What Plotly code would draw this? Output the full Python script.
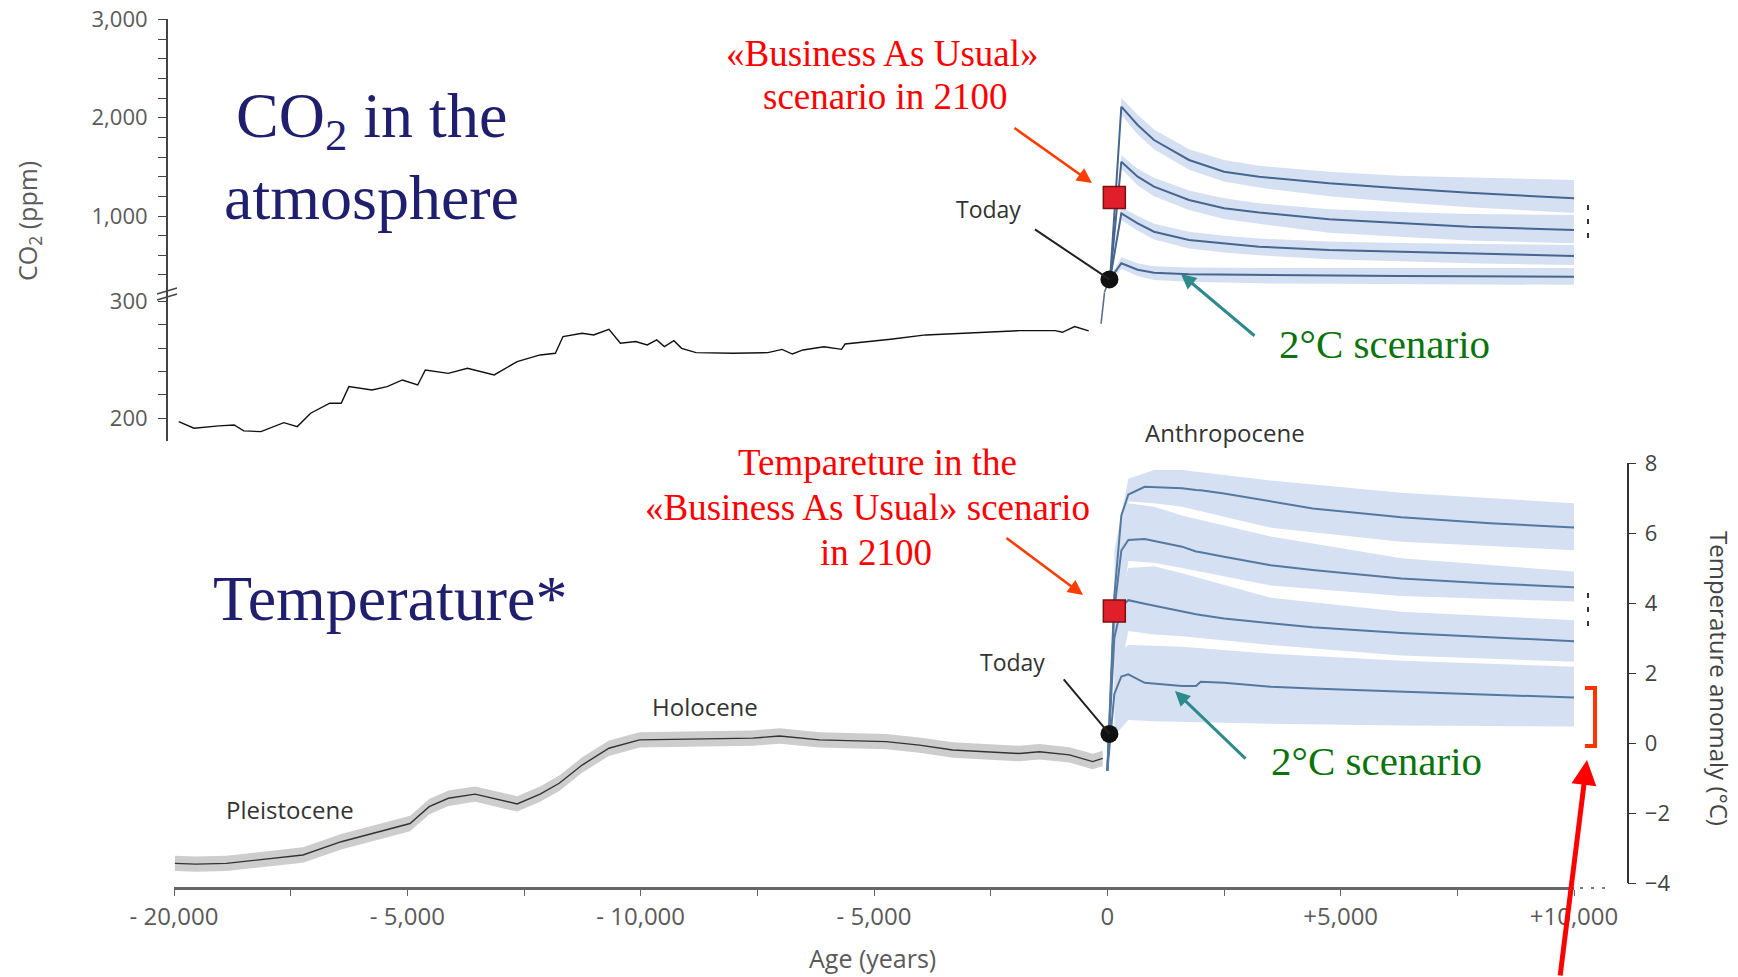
import plotly.graph_objects as go

W, H = 1738, 977
def px(x): return x / W
def py(y): return 1 - y / H

# ---------------- data ----------------
co2_paleo_years = [-19899, -19572, -19039, -18711, -18506, -18138, -17646, -17359, -17072, -16662,
                   -16417, -16253, -15761, -15433, -15105, -14778, -14614, -14122, -13712, -13139,
                   -12647, -12155, -11828, -11664, -11254, -11008, -10680, -10434, -10107, -9860,
                   -9656, -9492, -9287, -9123, -8812, -8024, -7273, -6972, -6747, -6522, -6071,
                   -5696, -5620, -5095, -4644, -3893, -3367, -2616, -1865, -1114, -963, -701, -400]
co2_paleo_ppm = [196.8, 191.2, 193.2, 194.0, 188.9, 188.3, 196.0, 192.6, 204.1, 212.7,
                 212.7, 227.0, 224.1, 227.0, 232.7, 228.4, 241.3, 238.4, 242.7, 237.0,
                 248.5, 254.2, 255.6, 270.0, 272.8, 271.4, 276.3, 264.3, 265.7, 262.8,
                 267.1, 261.4, 266.5, 259.9, 256.2, 255.6, 256.2, 259.0, 255.0, 258.5, 261.3,
                 259.0, 263.6, 265.7, 267.7, 271.4, 272.3, 273.7, 275.1, 275.1, 273.7, 278.6, 274.9]

co2_modern_low_years = [-135, -60]
co2_modern_low_ppm = [281, 308]
co2_modern_high_years = [-60, 43]
co2_modern_high_ppm = [227, 355]

co2_scen_years = [60, 300, 650, 1000, 1750, 2500, 3250, 4750, 6250, 7750, 10000]
co2_scen = [
    [360, 2112, 1926, 1773, 1570, 1451, 1400, 1332, 1282, 1237, 1180],
    [360, 1552, 1400, 1298, 1163, 1078, 1036, 968, 930, 890, 858],
    [360, 1027, 926, 840, 756, 720, 688, 654, 637, 620, 593],
    [360, 520, 454, 423, 407, 403, 401, 397, 390, 387, 383],
]
co2_scen_upper = [
    [380, 2200, 2030, 1880, 1680, 1570, 1510, 1450, 1410, 1390, 1366],
    [380, 1620, 1480, 1390, 1260, 1180, 1130, 1070, 1040, 1020, 1010],
    [380, 1090, 1000, 920, 840, 800, 770, 740, 725, 715, 705],
    [380, 580, 520, 490, 475, 472, 471, 470, 470, 470, 470],
]
co2_scen_lower = [
    [340, 2030, 1830, 1680, 1470, 1350, 1290, 1200, 1140, 1090, 1030],
    [340, 1480, 1310, 1200, 1060, 970, 920, 830, 790, 750, 722],
    [340, 960, 850, 760, 670, 630, 600, 560, 540, 520, 502],
    [340, 460, 390, 350, 330, 320, 315, 310, 305, 302, 300],
]

temp_paleo_years = [-19981, -19531, -18875, -18056, -17236, -16417, -15597, -14942, -14532, -14122,
                    -13548, -13139, -12647, -12155, -11745, -11254, -10680, -10025, -9451, -8385,
                    -7595, -7024, -6167, -4740, -4026, -3312, -2598, -1884, -1456, -814, -314, -100]
temp_paleo = [-3.44, -3.46, -3.44, -3.31, -3.20, -2.82, -2.53, -2.30, -1.82, -1.58,
              -1.46, -1.58, -1.74, -1.46, -1.15, -0.63, -0.15, 0.09, 0.10, 0.12,
              0.14, 0.20, 0.09, 0.04, -0.06, -0.20, -0.25, -0.30, -0.25, -0.34, -0.53, -0.44]
temp_paleo_unc = 0.22

temp_scen_years = [0, 150, 300, 450, 800, 1600, 1900, 2000, 2500, 3500, 4400, 6300, 8200, 10000]
temp_scen = [
    [-0.8, 4.2, 6.5, 7.1, 7.32, 7.28, 7.23, 7.22, 7.13, 6.90, 6.70, 6.45, 6.28, 6.16],
    [-0.8, 3.8, 5.5, 5.8, 5.83, 5.61, 5.47, 5.45, 5.32, 5.08, 4.94, 4.70, 4.56, 4.45],
    [-0.8, 3.0, 3.9, 4.08, 3.98, 3.75, 3.68, 3.66, 3.56, 3.42, 3.31, 3.14, 3.02, 2.91],
    [-0.8, 1.4, 1.9, 1.96, 1.72, 1.63, 1.63, 1.75, 1.72, 1.61, 1.56, 1.48, 1.38, 1.30],
]
temp_band_years = [150, 450, 1000, 1600, 3500, 6300, 10000]
temp_band_upper = [
    [5.5, 7.55, 7.8, 7.8, 7.5, 7.15, 6.85],
    [4.5, 6.85, 6.75, 6.5, 5.9, 5.28, 4.90],
    [3.5, 5.0, 5.05, 4.85, 4.15, 3.75, 3.51],
    [2.5, 2.8, 2.78, 2.75, 2.55, 2.35, 2.18],
]
temp_band_lower = [
    [2.5, 6.9, 6.85, 6.75, 6.15, 5.75, 5.51],
    [2.0, 5.2, 5.15, 5.0, 4.5, 4.2, 4.04],
    [1.2, 3.2, 3.1, 3.05, 2.8, 2.5, 2.32],
    [0.2, 0.66, 0.62, 0.6, 0.55, 0.5, 0.47],
]

today_year, today_co2, today_temp = 45, 355, 0.26
bau_year, bau_co2, bau_temp = 150, 1188, 3.77

x_tickvals = [-20000, -15000, -10000, -5000, 0, 5000, 10000]
x_ticktext = ["- 20,000", "- 5,000", "- 10,000", "- 5,000", "0", "+5,000", "+10,000"]

# ---------------- styles ----------------
SERIF = "Liberation Serif"
SANS = "Open Sans"
BAND_BLUE = "#d5e1f2"
LINE_BLUE_TOP = "#466591"
LINE_BLUE_BOT = "#55789f"
NAVY = "#1f1f6e"
RED = "#ff0000"
ORANGE = "#ff3c00"
TEAL = "#2e8b8b"
GREEN = "#0b730b"
AX = "#5a5a5a"

fig = go.Figure()

# CO2 paleo (lower broken axis)
fig.add_trace(go.Scatter(x=co2_paleo_years, y=co2_paleo_ppm, xaxis="x", yaxis="y3",
                         mode="lines", line=dict(color="#111111", width=1.4)))
fig.add_trace(go.Scatter(x=co2_modern_low_years, y=co2_modern_low_ppm, xaxis="x", yaxis="y3",
                         mode="lines", line=dict(color="#5d6f8c", width=1.6)))
fig.add_trace(go.Scatter(x=co2_modern_high_years, y=co2_modern_high_ppm, xaxis="x", yaxis="y2",
                         mode="lines", line=dict(color="#5d6f8c", width=1.6)))

# CO2 bands
for lo, hi in zip(co2_scen_lower, co2_scen_upper):
    fig.add_trace(go.Scatter(x=co2_scen_years, y=lo, xaxis="x", yaxis="y2", mode="lines",
                             line=dict(width=0, color=BAND_BLUE), hoverinfo="skip"))
    fig.add_trace(go.Scatter(x=co2_scen_years, y=hi, xaxis="x", yaxis="y2", mode="lines",
                             line=dict(width=0, color=BAND_BLUE), fill="tonexty",
                             fillcolor=BAND_BLUE, hoverinfo="skip"))
for s in co2_scen:
    fig.add_trace(go.Scatter(x=co2_scen_years, y=s, xaxis="x", yaxis="y2", mode="lines",
                             line=dict(color=LINE_BLUE_TOP, width=2)))

# Temperature paleo band + line
fig.add_trace(go.Scatter(x=temp_paleo_years, y=[t - temp_paleo_unc for t in temp_paleo],
                         xaxis="x", yaxis="y", mode="lines", line=dict(width=0, color="#cccccc"),
                         hoverinfo="skip"))
fig.add_trace(go.Scatter(x=temp_paleo_years, y=[t + temp_paleo_unc for t in temp_paleo],
                         xaxis="x", yaxis="y", mode="lines", line=dict(width=0, color="#cccccc"),
                         fill="tonexty", fillcolor="#cdcdcd", hoverinfo="skip"))
fig.add_trace(go.Scatter(x=temp_paleo_years, y=temp_paleo, xaxis="x", yaxis="y", mode="lines",
                         line=dict(color="#333333", width=1.4)))

# Temperature bands + lines
for lo, hi in zip(temp_band_lower, temp_band_upper):
    fig.add_trace(go.Scatter(x=temp_band_years, y=lo, xaxis="x", yaxis="y", mode="lines",
                             line=dict(width=0, color=BAND_BLUE), hoverinfo="skip"))
    fig.add_trace(go.Scatter(x=temp_band_years, y=hi, xaxis="x", yaxis="y", mode="lines",
                             line=dict(width=0, color=BAND_BLUE), fill="tonexty",
                             fillcolor=BAND_BLUE, hoverinfo="skip"))
for s in temp_scen:
    fig.add_trace(go.Scatter(x=temp_scen_years, y=s, xaxis="x", yaxis="y", mode="lines",
                             line=dict(color=LINE_BLUE_BOT, width=2)))

# markers
fig.add_trace(go.Scatter(x=[today_year], y=[today_co2], xaxis="x", yaxis="y2", mode="markers",
                         marker=dict(color="#111111", size=18)))
fig.add_trace(go.Scatter(x=[bau_year], y=[bau_co2], xaxis="x", yaxis="y2", mode="markers",
                         marker=dict(color="#e01f2b", size=22, symbol="square",
                                     line=dict(color="#7a1010", width=1.5))))
fig.add_trace(go.Scatter(x=[today_year], y=[today_temp], xaxis="x", yaxis="y", mode="markers",
                         marker=dict(color="#111111", size=18)))
fig.add_trace(go.Scatter(x=[bau_year], y=[bau_temp], xaxis="x", yaxis="y", mode="markers",
                         marker=dict(color="#e01f2b", size=22, symbol="square",
                                     line=dict(color="#7a1010", width=1.5))))

tickfont = dict(family=SANS, size=22, color=AX)

fig.update_layout(
    width=W, height=H, margin=dict(l=0, r=0, t=0, b=0, autoexpand=False),
    paper_bgcolor="white", plot_bgcolor="white", showlegend=False,
    font=dict(family=SANS),
    xaxis=dict(domain=[px(174), px(1574)], range=[-20000, 10000], anchor="free",
               position=py(888), showline=True, linecolor="#666666", linewidth=2.5,
               ticks="outside", ticklen=6, tickcolor="#666666", tickwidth=1,
               tickmode="array", tickvals=x_tickvals, ticktext=x_ticktext,
               tickfont=dict(family=SANS, size=24, color=AX), automargin=False,
               minor=dict(dtick=2500, tick0=0, ticks="outside", ticklen=6, tickcolor="#666666"),
               showgrid=False, zeroline=False),
    yaxis=dict(domain=[py(883), py(463)], range=[-4, 8], anchor="free", position=px(1627.7),
               side="right", showline=True, linecolor="#333333", linewidth=1.5,
               ticks="outside", ticklen=8, tickcolor="#333333", dtick=2, tick0=0,
               tickfont=dict(family=SANS, size=22, color="#444444"), ticklabelstandoff=4,
               showgrid=False, zeroline=False, automargin=False),
    yaxis2=dict(domain=[py(292), py(19.4)], range=[227, 3000], anchor="free", position=px(166.7),
                side="left", showline=True, linecolor="#444444", linewidth=1.5,
                ticks="outside", ticklen=8, tickcolor="#444444", tickmode="array",
                tickvals=[1000, 2000, 3000], tickformat=",", tickfont=tickfont,
                ticklabelstandoff=6, automargin=False,
                minor=dict(dtick=200, tick0=0, ticks="outside", ticklen=8, tickcolor="#444444"),
                showgrid=False, zeroline=False),
    yaxis3=dict(domain=[py(440.7), py(292)], range=[180.5, 308.3], anchor="free",
                position=px(166.7), side="left", showline=True, linecolor="#444444",
                linewidth=1.5, ticks="outside", ticklen=8, tickcolor="#444444",
                tickmode="array", tickvals=[200, 300], tickfont=tickfont, ticklabelstandoff=6,
                automargin=False,
                minor=dict(dtick=20, tick0=0, ticks="outside", ticklen=8, tickcolor="#444444"),
                showgrid=False, zeroline=False),
)

ann = []
def text(x, y, s, size, color, family=SERIF, angle=0, xanchor="center"):
    ann.append(dict(x=px(x), y=py(y), xref="paper", yref="paper", text=s, showarrow=False,
                    font=dict(family=family, size=size, color=color), textangle=angle,
                    xanchor=xanchor, yanchor="middle"))

def arrow(tipx, tipy, tailx, taily, color, width, head=2, size=1.0):
    ann.append(dict(x=px(tipx), y=py(tipy), xref="paper", yref="paper", text="",
                    showarrow=True, ax=tailx - tipx, ay=taily - tipy, axref="pixel",
                    ayref="pixel", arrowhead=head, arrowsize=size, arrowwidth=width,
                    arrowcolor=color, standoff=0))

text(371, 120, "CO<sub>2</sub> in the", 64, NAVY)
text(371, 197, "atmosphere", 64, NAVY)
text(390, 598, "Temperature*", 64, NAVY)

text(882, 53, "«Business As Usual»", 37, RED)
text(885, 97, "scenario in 2100", 37, RED)
text(877, 462, "Tempareture in the", 37, RED)
text(867, 507, "«Business As Usual» scenario", 37, RED)
text(876, 552, "in 2100", 37, RED)

text(1384, 344, "2°C scenario", 41, GREEN)
text(1376, 761, "2°C scenario", 41, GREEN)

text(988, 209, "Today", 23, "#333333", SANS)
text(1012, 662, "Today", 23, "#333333", SANS)
text(1225, 432, "Anthropocene", 24, "#333333", SANS)
text(705, 706, "Holocene", 24, "#333333", SANS)
text(290, 809, "Pleistocene", 24, "#333333", SANS)

text(29, 221, "CO<sub>2</sub> (ppm)", 25, AX, SANS, angle=-90)
text(1720, 678, "Temperature anomaly (°C)", 24, "#444444", SANS, angle=90)
text(872, 958, "Age (years)", 25, AX, SANS)

arrow(1092, 183, 1013, 127, ORANGE, 2.5, 2, 1.2)
arrow(1083, 595, 1005, 537, ORANGE, 2.5, 2, 1.2)
arrow(1181, 274, 1256, 337, TEAL, 3, 2, 1.0)
arrow(1175, 691, 1247, 760, TEAL, 3, 2, 1.0)
arrow(1587, 760, 1560, 990, RED, 5, 2, 1.0)

# Today leader lines (anchored on the data points)
ann.append(dict(x=today_year, y=today_co2, xref="x", yref="y2", text="", showarrow=True,
                ax=-76, ay=-51, arrowhead=0, arrowwidth=2, arrowcolor="#222222", standoff=0))
ann.append(dict(x=today_year, y=today_temp, xref="x", yref="y", text="", showarrow=True,
                ax=-47, ay=-56, arrowhead=0, arrowwidth=2, arrowcolor="#222222", standoff=0))

fig.update_layout(annotations=ann)

shapes = []
# axis break marks
for dy in (0, 6):
    shapes.append(dict(type="line", xref="paper", yref="paper",
                       x0=px(157), y0=py(294 + dy), x1=px(177), y1=py(288 + dy),
                       line=dict(color="#444444", width=1.5)))
# orange bracket
shapes.append(dict(type="path", xref="paper", yref="paper",
                   path=f"M {px(1585)},{py(688)} L {px(1595)},{py(688)} L {px(1595)},{py(746)} L {px(1585)},{py(746)}",
                   line=dict(color="#ff3300", width=4)))
# small dotted continuation marks
for (x0, y0, x1, y1) in [(1588, 205, 1588, 246), (1588, 593, 1588, 630)]:
    shapes.append(dict(type="line", xref="paper", yref="paper", x0=px(x0), y0=py(y0),
                       x1=px(x1), y1=py(y1), line=dict(color="#333333", width=2, dash="5px,9px")))
shapes.append(dict(type="line", xref="paper", yref="paper", x0=px(1580), y0=py(888),
                   x1=px(1612), y1=py(888), line=dict(color="#777777", width=2, dash="3px,8px")))
fig.update_layout(shapes=shapes)

fig.write_html("out.html", config={"displayModeBar": False},
               post_script="document.body.style.margin='0';document.body.style.overflow='hidden';")
